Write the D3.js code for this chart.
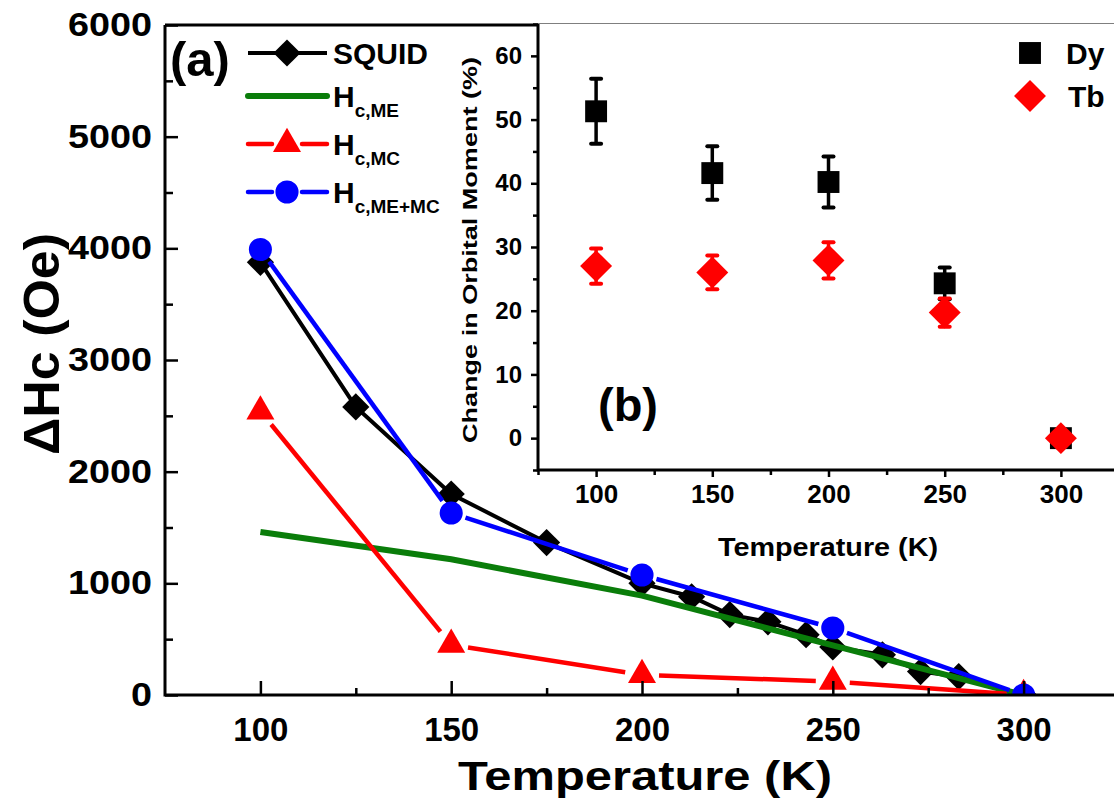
<!DOCTYPE html>
<html>
<head>
<meta charset="utf-8">
<script src="https://cdn.jsdelivr.net/npm/d3@7"></script>
<style>
  html, body { margin: 0; padding: 0; background: #fff; }
  svg { display: block; font-family: "Liberation Sans", Arial, sans-serif; font-weight: bold; }
</style>
</head>
<body>
<svg id="chart" width="1114" height="805"></svg>
<script>
// ---- panel (a): coercivity change vs temperature ----
const squidT  = [100, 125, 150, 175, 200, 213, 223, 233, 243, 250, 263, 273, 283, 300];
const squidHc = [3875, 2580, 1800, 1365, 1000, 880, 720, 655, 540, 430, 360, 210, 165, 0];
const modelT  = [100, 150, 200, 250, 300];
const hcME    = [1460, 1215, 890, 445, 0];
const hcMC    = [2540, 450, 180, 120, 0];
const hcMEMC  = [3990, 1630, 1075, 600, 0];
const mainXTicks = [100, 150, 200, 250, 300];
const mainYTicks = [0, 1000, 2000, 3000, 4000, 5000, 6000];

// ---- panel (b): change in orbital moment ----
const insetT = [100, 150, 200, 250, 300];
const dyVal  = [51.3, 41.6, 40.2, 24.3, 0];
const dyErr  = [5.1, 4.2, 4.0, 2.5, 0];
const tbVal  = [27.0, 26.0, 27.9, 19.7, 0];
const tbErr  = [2.75, 2.65, 2.85, 2.2, 0];
const insetXTicks = [100, 150, 200, 250, 300];
const insetYTicks = [0, 10, 20, 30, 40, 50, 60];

const svg = d3.select("#chart");

// scales
const x  = d3.scaleLinear([75, 325], [165, 1119]);
const y  = d3.scaleLinear([0, 6000], [695, 25]);
const xi = d3.scaleLinear([75, 325], [538, 1119]);
const yi = d3.scaleLinear([-5, 65], [470, 24]);

const zip = (a, b) => a.map((v, i) => [v, b[i]]);

// ---------- main panel ----------
svg.append("clipPath").attr("id", "mainClip")
  .append("rect").attr("x", 165).attr("y", 25).attr("width", 954).attr("height", 670);

const plot = svg.append("g").attr("clip-path", "url(#mainClip)");

const line = d3.line().x(d => x(d[0])).y(d => y(d[1]));

// line broken around each marker, as segments trimmed by `gap` pixels
function gappedSegments(g, pts, gap, color, width) {
  const px = pts.map(d => [x(d[0]), y(d[1])]);
  const segs = d3.pairs(px).map(([a, b]) => {
    const dx = b[0] - a[0], dy = b[1] - a[1], L = Math.hypot(dx, dy);
    const ux = dx / L, uy = dy / L;
    return [a[0] + ux * gap, a[1] + uy * gap, b[0] - ux * gap, b[1] - uy * gap];
  });
  g.selectAll(null).data(segs).join("line")
    .attr("x1", d => d[0]).attr("y1", d => d[1])
    .attr("x2", d => d[2]).attr("y2", d => d[3])
    .attr("stroke", color).attr("stroke-width", width);
}

const diamond = d3.symbol().type(d3.symbolSquare).size(370)();
const circle = d3.symbol().type(d3.symbolCircle).size(420)();
const triangle = d3.symbol().type(d3.symbolTriangle).size(340)();

// SQUID
const squid = zip(squidT, squidHc);
plot.append("path").datum(squid).attr("d", line)
  .attr("fill", "none").attr("stroke", "#000").attr("stroke-width", 4);
plot.selectAll(".sq").data(squid).join("path")
  .attr("d", diamond).attr("fill", "#000")
  .attr("transform", d => `translate(${x(d[0])},${y(d[1])}) rotate(45)`);

// H_c,ME
plot.append("path").datum(zip(modelT, hcME)).attr("d", line)
  .attr("fill", "none").attr("stroke", "#0a7d0a").attr("stroke-width", 6);

// H_c,MC
const mc = zip(modelT, hcMC);
gappedSegments(plot, mc, 17, "#ff0000", 4.5);
plot.selectAll(".mc").data(mc).join("path")
  .attr("d", triangle).attr("fill", "#ff0000")
  .attr("transform", d => `translate(${x(d[0])},${y(d[1])})`);

// H_c,ME+MC
const memc = zip(modelT, hcMEMC);
gappedSegments(plot, memc, 15, "#0000ff", 4.5);
plot.selectAll(".memc").data(memc).join("path")
  .attr("d", circle).attr("fill", "#0000ff")
  .attr("transform", d => `translate(${x(d[0])},${y(d[1])})`);

// main axes
const xAxis = svg.append("g").attr("transform", "translate(0,695)")
  .call(d3.axisBottom(x).tickValues(mainXTicks).tickSize(-14).tickPadding(23).tickFormat(d3.format("d")));
svg.append("g").attr("transform", "translate(0,695)")
  .call(d3.axisBottom(x).tickValues([125, 175, 225, 275]).tickSize(-7).tickFormat(""));
const yAxis = svg.append("g").attr("transform", "translate(165,0)")
  .call(d3.axisLeft(y).tickValues(mainYTicks).tickSize(-13).tickPadding(13).tickFormat(d3.format("d")));
svg.append("g").attr("transform", "translate(165,0)")
  .call(d3.axisLeft(y).tickValues([500, 1500, 2500, 3500, 4500, 5500]).tickSize(-8).tickFormat(""));

svg.selectAll(".domain").remove();
svg.selectAll(".tick line").attr("stroke", "#000").attr("stroke-width", 2.5);
xAxis.selectAll("text").attr("font-size", 33).attr("font-family", "Liberation Sans, Arial")
  .attr("font-weight", "bold").attr("fill", "#000");
yAxis.selectAll("text").attr("font-size", 33).attr("font-family", "Liberation Sans, Arial")
  .attr("font-weight", "bold").attr("fill", "#000")
  .attr("textLength", d => String(d).length * 21).attr("lengthAdjust", "spacingAndGlyphs");

// frame of main panel
svg.append("path").attr("d", "M165,25 V695 H1119 M165,25 H1119")
  .attr("fill", "none").attr("stroke", "#000").attr("stroke-width", 3);

// titles
svg.append("text").attr("x", 645).attr("y", 790).attr("text-anchor", "middle")
  .attr("font-size", 41).attr("textLength", 374).attr("lengthAdjust", "spacingAndGlyphs")
  .text("Temperature (K)");
svg.append("text").attr("transform", "translate(59,344) rotate(-90)").attr("text-anchor", "middle")
  .attr("font-size", 50).attr("textLength", 222).attr("lengthAdjust", "spacingAndGlyphs")
  .text("ΔHc (Oe)");
svg.append("text").attr("x", 170).attr("y", 76).attr("font-size", 49).text("(a)");

// legend of main panel
const legendRows = [
  { label: "SQUID", sub: null, color: "#000", mark: "diamond", yy: 53 },
  { label: "H", sub: "c,ME", color: "#0a7d0a", mark: null, yy: 96 },
  { label: "H", sub: "c,MC", color: "#ff0000", mark: "triangle", yy: 144 },
  { label: "H", sub: "c,ME+MC", color: "#0000ff", mark: "circle", yy: 192 }
];
const leg = svg.append("g");
legendRows.forEach(r => {
  if (r.mark === "diamond" || r.mark === null) {
    leg.append("line").attr("x1", 248).attr("x2", 327).attr("y1", r.yy).attr("y2", r.yy)
      .attr("stroke", r.color).attr("stroke-width", r.mark === null ? 6 : 4)
      .attr("stroke-linecap", r.mark === null ? "round" : "butt");
  } else {
    leg.append("line").attr("x1", 248).attr("x2", 272).attr("y1", r.yy).attr("y2", r.yy)
      .attr("stroke", r.color).attr("stroke-width", 4.5).attr("stroke-linecap", "round");
    leg.append("line").attr("x1", 302).attr("x2", 327).attr("y1", r.yy).attr("y2", r.yy)
      .attr("stroke", r.color).attr("stroke-width", 4.5).attr("stroke-linecap", "round");
  }
  if (r.mark) {
    const p = r.mark === "diamond" ? diamond : r.mark === "circle" ? circle : triangle;
    leg.append("path").attr("d", p).attr("fill", r.color)
      .attr("transform", `translate(287,${r.yy})` + (r.mark === "diamond" ? " rotate(45)" : ""));
  }
  const t = leg.append("text").attr("x", 333).attr("y", r.yy + 11).attr("font-size", 30);
  t.append("tspan").text(r.label);
  if (r.sub) t.append("tspan").attr("font-size", 19).attr("dy", 10).text(r.sub);
});

// ---------- inset panel ----------
const inset = svg.append("g");
inset.append("rect").attr("x", 538).attr("y", 24).attr("width", 600).attr("height", 446).attr("fill", "#fff");

const ixAxis = inset.append("g").attr("transform", "translate(0,470)")
  .call(d3.axisBottom(xi).tickValues(insetXTicks).tickSize(7).tickPadding(8).tickFormat(d3.format("d")));
inset.append("g").attr("transform", "translate(0,470)")
  .call(d3.axisBottom(xi).tickValues([75, 125, 175, 225, 275, 325]).tickSize(5).tickFormat(""));
const iyAxis = inset.append("g").attr("transform", "translate(538,0)")
  .call(d3.axisLeft(yi).tickValues(insetYTicks).tickSize(7).tickPadding(9).tickFormat(d3.format("d")));
inset.append("g").attr("transform", "translate(538,0)")
  .call(d3.axisLeft(yi).tickValues([-5, 5, 15, 25, 35, 45, 55, 65]).tickSize(5).tickFormat(""));
inset.selectAll(".domain").remove();
inset.selectAll(".tick line").attr("stroke", "#000").attr("stroke-width", 2.5);
ixAxis.selectAll("text").attr("font-size", 26).attr("font-family", "Liberation Sans, Arial")
  .attr("font-weight", "bold").attr("fill", "#000");
iyAxis.selectAll("text").attr("font-size", 24).attr("font-family", "Liberation Sans, Arial")
  .attr("font-weight", "bold").attr("fill", "#000");
inset.append("path").attr("d", "M538,24 V470 H1119")
  .attr("fill", "none").attr("stroke", "#000").attr("stroke-width", 3);

inset.append("text").attr("x", 828).attr("y", 556).attr("text-anchor", "middle")
  .attr("font-size", 26).attr("textLength", 220).attr("lengthAdjust", "spacingAndGlyphs")
  .text("Temperature (K)");
inset.append("text").attr("transform", "translate(477,250) rotate(-90)").attr("text-anchor", "middle")
  .attr("font-size", 21).attr("textLength", 386).attr("lengthAdjust", "spacingAndGlyphs")
  .text("Change in Orbital Moment (%)");
inset.append("text").attr("x", 598).attr("y", 421).attr("font-size", 47).text("(b)");

const square = d3.symbol().type(d3.symbolSquare).size(480)();
const bigDiamond = d3.symbol().type(d3.symbolSquare).size(510)();

function errorBars(g, vals, errs, color) {
  const d = insetT.map((t, i) => ({ t, v: vals[i], e: errs[i] })).filter(d => d.e > 0);
  g.selectAll(null).data(d).join("line")
    .attr("x1", d => xi(d.t)).attr("x2", d => xi(d.t))
    .attr("y1", d => yi(d.v - d.e)).attr("y2", d => yi(d.v + d.e))
    .attr("stroke", color).attr("stroke-width", 3.5);
  ["lo", "hi"].forEach(k => {
    g.selectAll(null).data(d).join("line")
      .attr("x1", d => xi(d.t) - 5).attr("x2", d => xi(d.t) + 5)
      .attr("y1", d => yi(k === "lo" ? d.v - d.e : d.v + d.e))
      .attr("y2", d => yi(k === "lo" ? d.v - d.e : d.v + d.e))
      .attr("stroke", color).attr("stroke-width", 4).attr("stroke-linecap", "round");
  });
}

errorBars(inset, dyVal, dyErr, "#000");
inset.selectAll(".dy").data(zip(insetT, dyVal)).join("path")
  .attr("d", square).attr("fill", "#000")
  .attr("transform", d => `translate(${xi(d[0])},${yi(d[1])})`);
errorBars(inset, tbVal, tbErr, "#ff0000");
inset.selectAll(".tb").data(zip(insetT, tbVal)).join("path")
  .attr("d", bigDiamond).attr("fill", "#ff0000")
  .attr("transform", d => `translate(${xi(d[0])},${yi(d[1])}) rotate(45)`);

// inset legend
inset.append("path").attr("d", square).attr("fill", "#000").attr("transform", "translate(1030,53)");
inset.append("text").attr("x", 1066).attr("y", 64).attr("font-size", 30).text("Dy");
inset.append("path").attr("d", bigDiamond).attr("fill", "#ff0000").attr("transform", "translate(1030,96) rotate(45)");
inset.append("text").attr("x", 1068).attr("y", 107).attr("font-size", 30).text("Tb");
</script>
</body>
</html>
